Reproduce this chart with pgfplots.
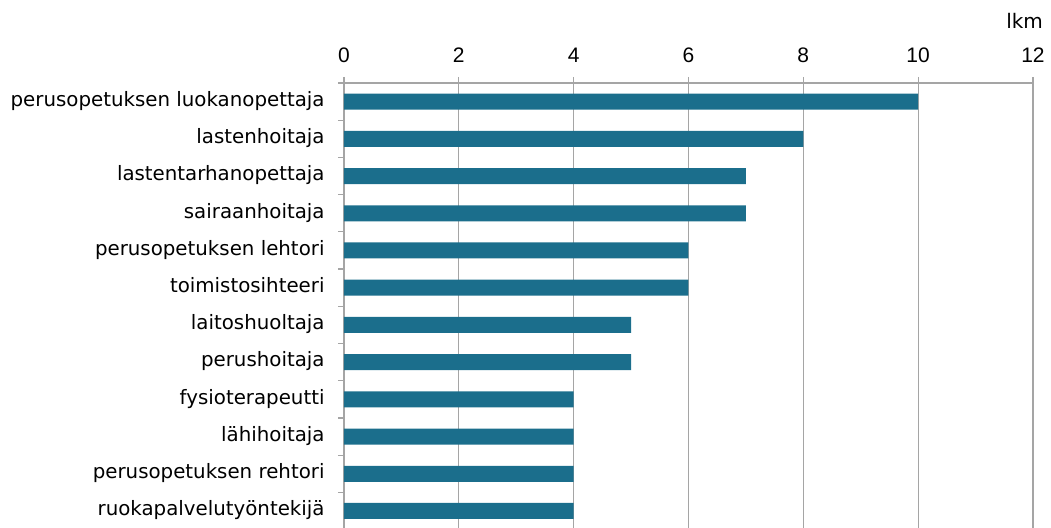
\documentclass[border=0pt]{standalone}
\usepackage{fontspec}
\setmainfont{DejaVu Sans}
\newfontfamily\arialf{Liberation Sans}
\usepackage{pgfplots}
\pgfplotsset{compat=1.18}
\definecolor{barc}{RGB}{27,110,140}
\definecolor{gridc}{RGB}{165,165,165}
\begin{document}
\begin{tikzpicture}
\path[use as bounding box] (0,0) rectangle (525.5pt,264pt);
\begin{axis}[
  at={(172pt,-0.8pt)}, anchor=south west,
  scale only axis, width=344.5pt, height=223.3pt,
  xmin=0, xmax=12, ymin=0.5, ymax=12.5, y dir=reverse,
  xbar, bar width=8pt,
  axis x line*=top, axis y line*=left,
  xtick={0,2,...,12},
  ytick={0.5,1.5,...,12.5}, yticklabels={},
  extra y ticks={1,2,...,12},
  extra y tick labels={perusopetuksen luokanopettaja,lastenhoitaja,lastentarhanopettaja,sairaanhoitaja,perusopetuksen lehtori,toimistosihteeri,laitoshuoltaja,perushoitaja,fysioterapeutti,lähihoitaja,perusopetuksen rehtori,ruokapalvelutyöntekijä},
  extra y tick style={major tick length=0pt, yticklabel style={xshift=-6.2pt}},
  tick align=outside,
  major tick length=3pt,
  tick style={gridc, line width=0.6pt},
  xmajorgrids, grid style={gridc, line width=0.6pt},
  axis line style={gridc, line width=0.6pt},
  /pgf/number format/assume math mode=true,
  xticklabel style={font=\arialf\fontsize{10.5}{12}\selectfont, text=black, yshift=3.5pt},
  yticklabel style={font=\fontsize{9.9}{12}\selectfont\strut, text=black},
]
\addplot[fill=barc, draw=none] coordinates {
(10,1) (8,2) (7,3) (7,4) (6,5) (6,6) (5,7) (5,8) (4,9) (4,10) (4,11) (4,12)};
\end{axis}
\node[font=\fontsize{10}{12}\selectfont] at (512.3pt,253.5pt) {lkm};
\end{tikzpicture}
\end{document}
